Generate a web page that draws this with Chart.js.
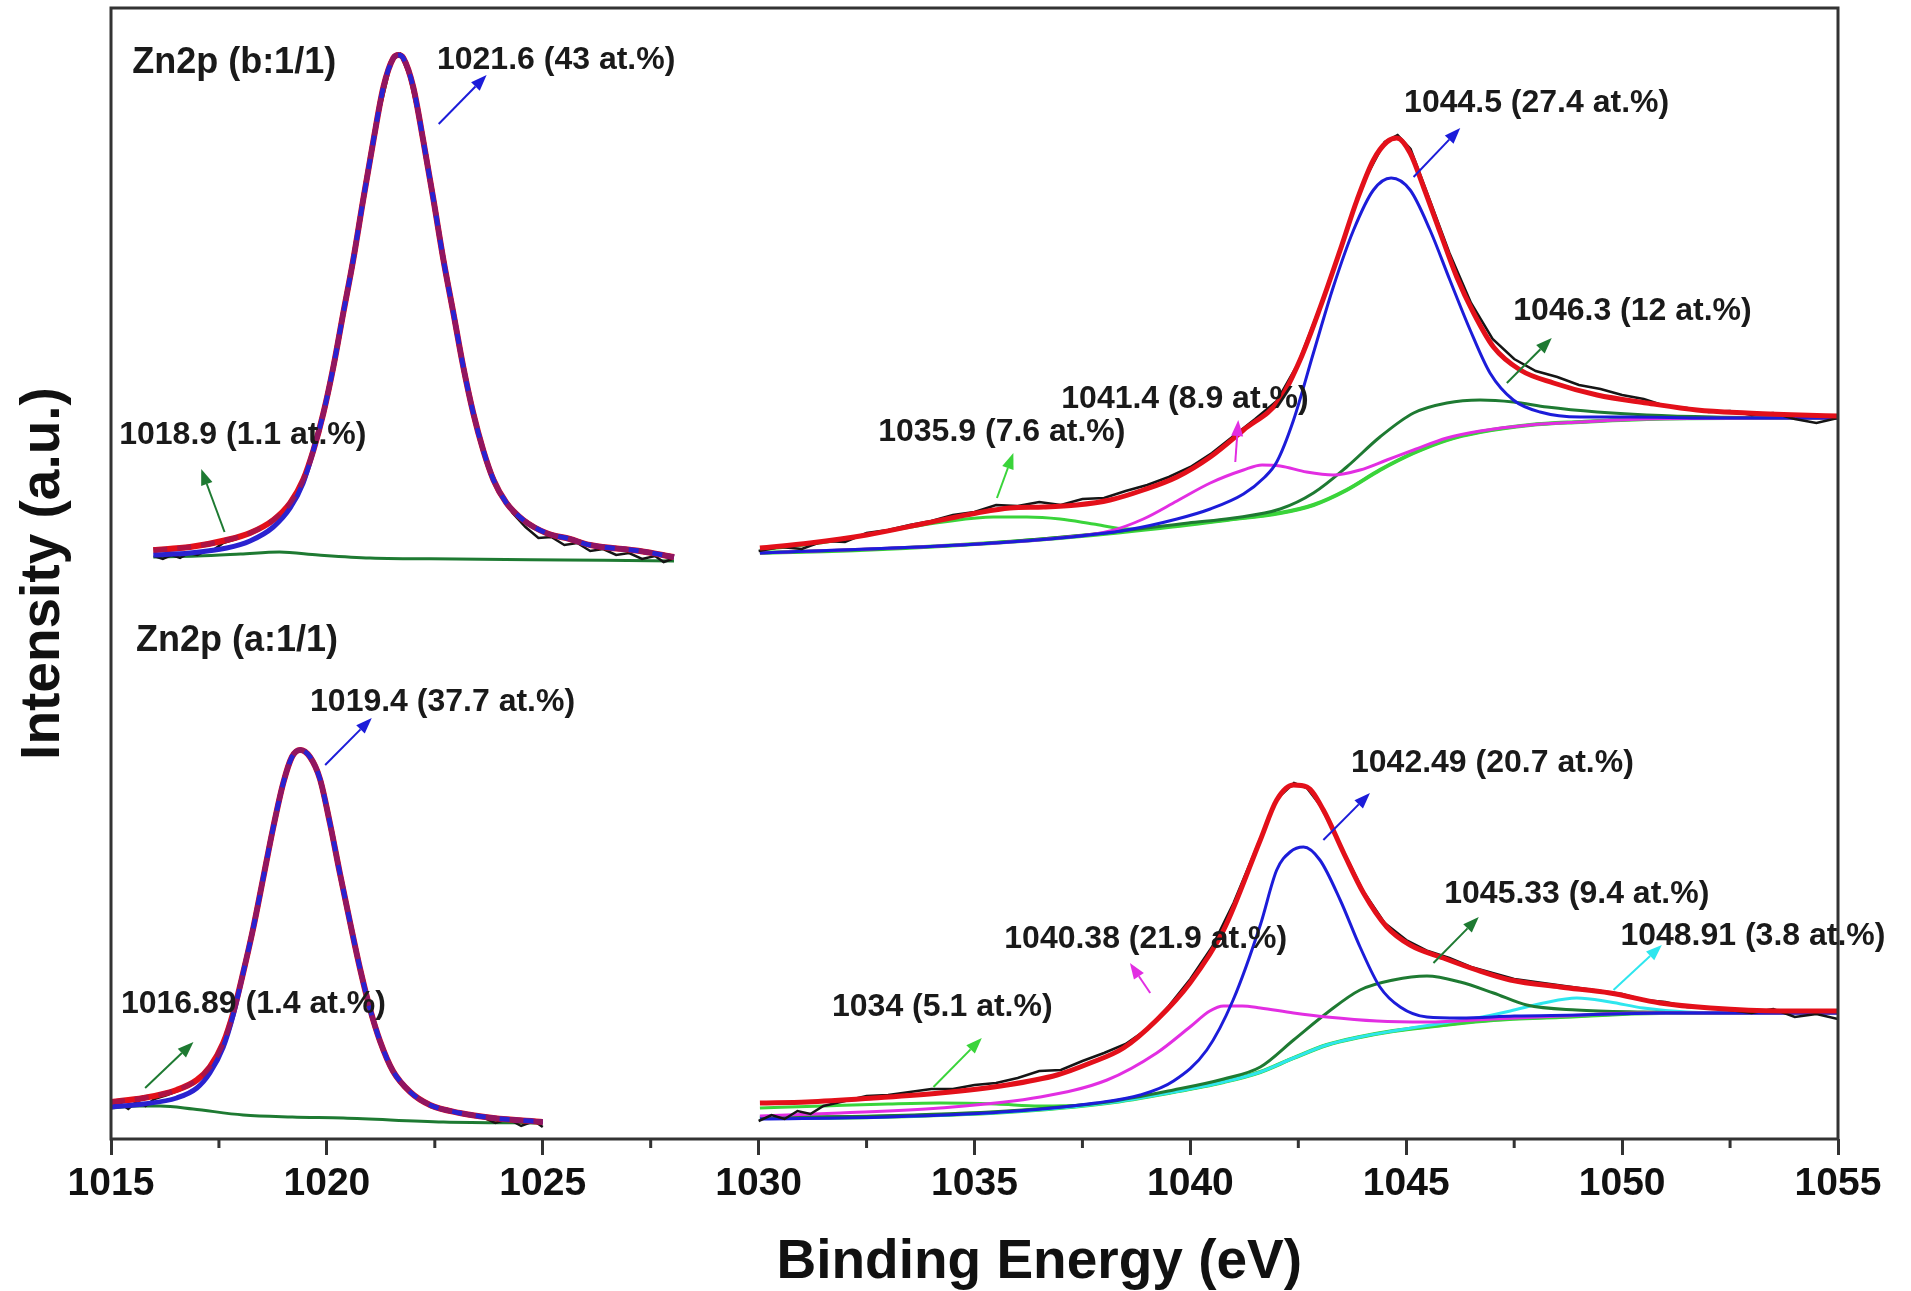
<!DOCTYPE html>
<html lang="en">
<head>
<meta charset="UTF-8">
<title>Zn2p XPS fit</title>
<script src="https://cdn.jsdelivr.net/npm/chart.js@4.4.1/dist/chart.umd.min.js"></script>
<style>
  body { margin: 0; background: #fff; }
  canvas { display: block; }
</style>
</head>
<body>
<canvas id="xps" width="1911" height="1291"></canvas>
<script>
// x axis (binding energy, eV)
const xMin = 1015, xMax = 1055, xStep = 5;
const minorTicks = [1017.5, 1022.5, 1027.5, 1032.5, 1037.5, 1042.5, 1047.5, 1052.5];
const yMin = 0, yMax = 1131;   // arbitrary intensity units
const xTitleAt = 1036.5;

// ---- sample b (upper spectrum), Zn2p3/2 region ----
const bLeftRaw = [[1016.0,583],[1016.2,580],[1016.4,584],[1016.6,581],[1016.8,586],[1017.0,584],[1017.2,588],[1017.4,590],[1017.6,596],[1017.9,600],[1018.2,605],[1018.5,611],[1018.8,620],[1019.1,633],[1019.4,655],[1019.7,690],[1020.0,742],[1020.3,806],[1020.6,878],[1020.9,953],[1021.2,1024],[1021.5,1078],[1021.7,1085],[1021.9,1064],[1022.2,1006],[1022.5,932],[1022.8,856],[1023.1,785],[1023.4,724],[1023.7,679],[1024.0,648],[1024.3,626],[1024.6,612],[1024.9,601],[1025.2,602],[1025.5,594],[1025.8,596],[1026.1,588],[1026.4,590],[1026.7,584],[1027.0,586],[1027.3,580],[1027.6,583],[1027.8,577],[1028.0,580]];
const bLeftFit = [[1015.98,589],[1016.83,592],[1017.68,599],[1018.22,606],[1018.76,619],[1019.15,636],[1019.45,659],[1019.69,689],[1019.92,726],[1020.15,772],[1020.38,826],[1020.61,879],[1020.84,939],[1021.08,999],[1021.31,1052],[1021.54,1081],[1021.66,1084],[1021.77,1081],[1022.00,1052],[1022.23,999],[1022.47,939],[1022.70,879],[1022.93,826],[1023.16,772],[1023.39,726],[1023.62,689],[1023.86,659],[1024.16,636],[1024.55,619],[1025.08,606],[1025.63,600],[1026.10,594],[1027.25,588],[1028.04,582]];
const bLeftPeak = [[1015.98,584],[1016.83,586],[1017.68,591],[1018.22,598],[1018.76,612],[1019.15,631],[1019.45,656],[1019.69,689],[1019.92,726],[1020.15,772],[1020.38,826],[1020.61,879],[1020.84,939],[1021.08,999],[1021.31,1052],[1021.54,1081],[1021.66,1084],[1021.77,1081],[1022.00,1052],[1022.23,999],[1022.47,939],[1022.70,879],[1022.93,826],[1023.16,772],[1023.39,726],[1023.62,689],[1023.86,659],[1024.16,636],[1024.55,619],[1025.08,606],[1025.63,600],[1026.10,594],[1027.25,588],[1028.04,582]];
const bLeftSmall = [[1015.98,582],[1017.0,583],[1018.0,585],[1018.9,587],[1019.8,584],[1021.0,581],[1023.0,580],[1025.5,579],[1028.04,578]];

// ---- sample b, Zn2p1/2 + satellites ----
const bRightRaw = [[1030.0,588],[1030.5,592],[1031.0,590],[1031.5,598],[1032.0,597],[1032.5,606],[1033.0,609],[1033.5,614],[1034.0,618],[1034.5,624],[1035.0,627],[1035.5,634],[1036.0,633],[1036.5,637],[1037.0,634],[1037.5,640],[1038.0,641],[1038.5,648],[1039.0,654],[1039.5,662],[1040.0,672],[1040.5,686],[1041.0,703],[1041.5,720],[1042.0,738],[1042.5,776],[1043.0,832],[1043.5,893],[1044.0,956],[1044.5,997],[1044.8,1004],[1045.1,990],[1045.5,944],[1046.0,886],[1046.5,836],[1047.0,800],[1047.5,780],[1048.0,768],[1048.5,762],[1049.0,754],[1049.5,750],[1050.0,744],[1050.5,740],[1051.0,733],[1051.5,731],[1052.0,727],[1052.5,728],[1053.0,724],[1053.5,726],[1054.0,720],[1054.5,716],[1055.0,721]];
const bRightFit = [[1030.03,591],[1031.19,596],[1032.50,604],[1033.89,616],[1035.05,626],[1035.82,631],[1036.60,632],[1037.37,634],[1038.14,639],[1038.91,649],[1039.69,662],[1040.46,682],[1041.23,709],[1042.08,740],[1042.54,779],[1043.01,832],[1043.47,889],[1043.86,939],[1044.24,979],[1044.55,997],[1044.78,1001],[1045.09,986],[1045.40,952],[1045.79,906],[1046.17,862],[1046.56,826],[1047.02,792],[1047.64,769],[1048.41,756],[1049.42,744],[1050.57,736],[1051.73,729],[1052.89,726],[1054.12,724],[1055.0,723]];
const bRightBg = [[1030.03,586],[1032.35,589],[1034.67,594],[1036.98,601],[1039.30,611],[1040.84,619],[1042.08,626],[1042.85,634],[1043.62,649],[1044.39,669],[1045.17,686],[1045.94,699],[1046.71,707],[1047.87,714],[1049.03,717],[1050.57,720],[1052.5,721],[1055.0,721]];
const bPeak1035 = [[1030.03,589],[1031.58,597],[1033.12,609],[1034.28,617],[1035.44,622],[1036.21,622],[1036.98,620],[1037.75,615],[1038.53,610],[1039.30,612],[1040.84,619],[1042.08,626],[1042.85,634],[1043.62,649],[1044.39,669],[1045.17,686],[1045.94,699],[1046.71,707],[1047.87,714],[1049.03,717],[1050.57,720],[1055.0,721]];
const bPeak1041 = [[1030.03,586],[1034.67,594],[1036.98,601],[1038.14,608],[1038.91,620],[1039.69,638],[1040.46,656],[1041.23,669],[1041.66,674],[1042.08,673],[1042.69,667],[1043.31,664],[1043.93,669],[1044.55,679],[1045.17,689],[1045.94,701],[1046.71,708],[1047.87,714],[1049.03,717],[1050.57,720],[1055.0,721]];
const bPeak1044 = [[1030.03,586],[1034.67,594],[1036.98,601],[1038.53,609],[1039.69,620],[1040.46,630],[1041.23,645],[1041.70,661],[1042.00,677],[1042.39,719],[1042.85,786],[1043.31,852],[1043.78,909],[1044.24,949],[1044.65,961],[1045.09,949],[1045.55,909],[1046.01,859],[1046.48,809],[1046.94,766],[1047.48,739],[1048.10,727],[1049.03,722],[1050.19,722],[1052.0,721],[1055.0,721]];
const bPeak1046 = [[1030.03,586],[1034.67,594],[1038.0,606],[1039.95,616],[1041.0,621],[1042.08,630],[1042.85,646],[1043.62,672],[1044.39,702],[1045.17,726],[1045.94,736],[1046.71,739],[1047.48,737],[1048.26,732],[1049.42,727],[1050.57,724],[1052.12,722],[1055.0,721]];

// ---- sample a (lower spectrum), Zn2p3/2 region ----
const aLeftRaw = [[1015.0,32],[1015.2,36],[1015.4,30],[1015.6,38],[1015.8,33],[1016.0,40],[1016.3,44],[1016.6,49],[1016.9,56],[1017.2,68],[1017.5,86],[1017.8,120],[1018.1,172],[1018.4,232],[1018.7,300],[1019.0,357],[1019.2,382],[1019.4,390],[1019.6,383],[1019.8,364],[1020.0,326],[1020.3,266],[1020.6,204],[1020.9,148],[1021.2,102],[1021.5,71],[1021.8,52],[1022.1,42],[1022.4,32],[1022.8,30],[1023.2,24],[1023.6,22],[1023.9,16],[1024.2,20],[1024.5,13],[1024.8,18],[1025.0,12]];
const aLeftFit = [[1015.0,37],[1015.75,41],[1016.52,49],[1016.99,59],[1017.29,72],[1017.60,96],[1017.83,126],[1018.06,166],[1018.30,212],[1018.53,262],[1018.76,312],[1018.99,356],[1019.19,382],[1019.38,389],[1019.61,382],[1019.84,360],[1020.07,316],[1020.30,266],[1020.54,216],[1020.77,170],[1021.00,130],[1021.23,98],[1021.53,68],[1021.93,47],[1022.39,34],[1023.08,26],[1023.85,21],[1025.0,17]];
const aLeftPeak = [[1015.0,32],[1015.75,35],[1016.52,41],[1016.99,51],[1017.29,66],[1017.60,92],[1017.83,124],[1018.06,166],[1018.30,212],[1018.53,262],[1018.76,312],[1018.99,356],[1019.19,382],[1019.38,389],[1019.61,382],[1019.84,360],[1020.07,316],[1020.30,266],[1020.54,216],[1020.77,170],[1021.00,130],[1021.23,98],[1021.53,68],[1021.93,47],[1022.39,34],[1023.08,26],[1023.85,21],[1025.0,17]];
const aLeftSmall = [[1015.0,31],[1015.6,33],[1016.14,33],[1016.9,30],[1018.06,24],[1019.2,22],[1020.38,21],[1022.7,17],[1025.0,16]];

// ---- sample a, Zn2p1/2 + satellites ----
const aRightRaw = [[1030.0,18],[1030.3,24],[1030.6,20],[1030.9,28],[1031.2,25],[1031.5,33],[1032.0,38],[1032.5,43],[1033.0,44],[1033.5,47],[1034.0,50],[1034.5,50],[1035.0,54],[1035.5,56],[1036.0,61],[1036.5,68],[1037.0,69],[1037.5,78],[1038.0,86],[1038.5,95],[1039.0,110],[1039.5,133],[1040.0,160],[1040.5,192],[1041.0,236],[1041.5,288],[1042.0,340],[1042.4,356],[1042.7,351],[1043.0,334],[1043.5,292],[1044.0,248],[1044.5,216],[1045.0,199],[1045.5,188],[1046.0,181],[1046.5,172],[1047.0,166],[1047.5,160],[1048.0,157],[1048.5,154],[1049.0,151],[1049.5,148],[1050.0,145],[1050.5,139],[1051.0,137],[1051.5,132],[1052.0,131],[1052.5,129],[1053.0,126],[1053.5,130],[1054.0,122],[1054.5,125],[1055.0,120]];
const aRightFit = [[1030.03,36],[1031.12,37],[1032.66,41],[1034.20,46],[1035.75,54],[1036.91,64],[1037.68,76],[1038.45,91],[1039.22,119],[1039.99,156],[1040.77,209],[1041.62,299],[1042.00,339],[1042.39,354],[1042.70,352],[1043.08,329],[1043.55,286],[1044.01,246],[1044.55,212],[1045.09,194],[1045.86,181],[1046.63,169],[1047.41,159],[1048.56,152],[1049.72,146],[1050.88,136],[1052.04,131],[1053.66,128],[1055.0,128]];
const aRightBg = [[1030.03,21],[1032.66,22],[1035.75,27],[1038.07,36],[1039.61,47],[1040.77,57],[1041.62,67],[1042.39,81],[1043.16,94],[1043.93,102],[1044.70,108],[1045.86,114],[1047.02,119],[1048.56,122],[1050.88,126],[1055.0,126]];
const aPeak1034 = [[1030.03,31],[1031.5,33],[1033.0,35],[1034.2,36],[1035.5,35],[1036.5,33],[1037.5,34],[1038.3,38],[1039.61,47],[1040.77,57],[1041.62,67],[1042.39,81],[1043.16,94],[1043.93,102],[1044.70,108],[1045.86,114],[1047.02,119],[1048.56,122],[1050.88,126],[1055.0,126]];
const aPeak1040 = [[1030.03,23],[1031.89,26],[1034.20,31],[1036.52,42],[1038.07,59],[1039.22,86],[1039.99,112],[1040.45,128],[1040.77,133],[1041.2,133],[1041.62,131],[1042.39,126],[1043.16,122],[1044.32,118],[1045.48,117],[1047.02,120],[1048.56,123],[1050.5,126],[1055.0,126]];
const aPeak1042 = [[1030.03,20],[1033.0,22],[1036.0,28],[1037.8,36],[1038.84,44],[1039.61,58],[1040.38,89],[1040.99,139],[1041.62,214],[1042.00,269],[1042.31,287],[1042.62,292],[1043.00,279],[1043.47,239],[1043.93,192],[1044.39,152],[1044.86,132],[1045.48,122],[1046.25,121],[1047.5,123],[1049.0,124],[1051.0,126],[1055.0,126]];
const aPeak1045 = [[1030.03,22],[1032.66,23],[1035.75,28],[1038.07,37],[1039.61,49],[1040.77,60],[1041.62,72],[1042.39,99],[1043.16,126],[1043.93,149],[1044.70,159],[1045.48,163],[1046.25,157],[1047.02,146],[1047.79,134],[1048.95,129],[1050.49,127],[1052.5,126],[1055.0,126]];
const aPeak1048 = [[1030.03,21],[1032.66,22],[1035.75,27],[1038.07,36],[1039.61,47],[1040.77,57],[1041.62,67],[1042.39,81],[1043.16,94],[1043.93,102],[1044.70,108],[1045.86,116],[1046.63,121],[1047.41,128],[1048.18,136],[1048.95,141],[1049.72,137],[1050.49,131],[1051.5,127],[1053.0,126],[1055.0,126]];

// annotation texts (left edge eV, baseline intensity)
const labels = [
  { text: 'Zn2p (b:1/1)', x: 1015.49, y: 1066, size: 36 },
  { text: '1021.6 (43 at.%)', x: 1022.55, y: 1070 },
  { text: '1018.9 (1.1 at.%)', x: 1015.19, y: 695 },
  { text: '1044.5 (27.4 at.%)', x: 1044.95, y: 1027 },
  { text: '1046.3 (12 at.%)', x: 1047.48, y: 819 },
  { text: '1041.4 (8.9 at.%)', x: 1037.01, y: 731 },
  { text: '1035.9 (7.6 at.%)', x: 1032.77, y: 698 },
  { text: 'Zn2p (a:1/1)', x: 1015.58, y: 488, size: 36 },
  { text: '1019.4 (37.7 at.%)', x: 1019.61, y: 428 },
  { text: '1016.89 (1.4 at.%)', x: 1015.23, y: 126 },
  { text: '1042.49 (20.7 at.%)', x: 1043.72, y: 367 },
  { text: '1045.33 (9.4 at.%)', x: 1045.88, y: 236 },
  { text: '1048.91 (3.8 at.%)', x: 1049.96, y: 194 },
  { text: '1040.38 (21.9 at.%)', x: 1035.69, y: 191 },
  { text: '1034 (5.1 at.%)', x: 1031.70, y: 123 }
];

const RED = '#e3101a', BLUE = '#1c1cd9', DKGREEN = '#1e7a32', GREEN = '#3ad43a',
      MAGENTA = '#e22ee2', CYAN = '#2ee6ee', BLACK = '#151515';

// arrows: [fromX, fromY, toX, toY, colour]
const arrows = [
  [1022.59, 1015, 1023.70, 1064, BLUE],
  [1017.63, 607, 1017.09, 670, DKGREEN],
  [1045.17, 962, 1046.25, 1011, BLUE],
  [1047.33, 756, 1048.37, 801, DKGREEN],
  [1041.04, 677, 1041.11, 719, MAGENTA],
  [1035.52, 641, 1035.90, 686, GREEN],
  [1019.96, 374, 1021.04, 421, BLUE],
  [1015.79, 51, 1016.91, 97, DKGREEN],
  [1043.08, 299, 1044.16, 346, BLUE],
  [1045.63, 176, 1046.68, 222, DKGREEN],
  [1049.80, 149, 1050.92, 194, CYAN],
  [1039.07, 146, 1038.60, 176, MAGENTA],
  [1034.05, 52, 1035.17, 101, GREEN]
];

function series(data, color, width, order, extra) {
  return Object.assign({
    data: data, borderColor: color, borderWidth: width, order: order,
    pointRadius: 0, fill: false, cubicInterpolationMode: 'monotone'
  }, extra || {});
}
const raw = { cubicInterpolationMode: 'default', tension: 0 };
const dash = { borderDash: [14, 10] };
const FIT_DASH = 'rgba(165,20,75,0.85)';

const datasets = [
  // sample b
  series(bLeftSmall, DKGREEN, 3, 8),
  series(bLeftRaw, BLACK, 2.5, 7, raw),
  series(bLeftFit, RED, 6, 6),
  series(bLeftPeak, '#2a22d0', 5, 5),
  series(bLeftFit, FIT_DASH, 5, 1, dash),
  series(bRightBg, GREEN, 4, 10),
  series(bPeak1035, GREEN, 3, 9),
  series(bPeak1046, DKGREEN, 3, 8),
  series(bPeak1041, MAGENTA, 3, 7),
  series(bPeak1044, BLUE, 3, 6),
  series(bRightRaw, BLACK, 2.5, 4, raw),
  series(bRightFit, RED, 5, 3),
  // sample a
  series(aLeftSmall, DKGREEN, 3, 8),
  series(aLeftRaw, BLACK, 2.5, 7, raw),
  series(aLeftFit, RED, 6, 6),
  series(aLeftPeak, '#2a22d0', 5, 5),
  series(aLeftFit, FIT_DASH, 5, 1, dash),
  series(aRightBg, GREEN, 4, 10),
  series(aPeak1034, GREEN, 3, 9),
  series(aPeak1045, DKGREEN, 3, 8),
  series(aPeak1048, CYAN, 3, 8),
  series(aPeak1040, MAGENTA, 3, 7),
  series(aPeak1042, BLUE, 3, 6),
  series(aRightRaw, BLACK, 2.5, 4, raw),
  series(aRightFit, RED, 5, 3)
];

const FONT = "'Liberation Sans', Arial, sans-serif";

const decor = {
  id: 'decor',
  afterDraw(chart) {
    const { ctx, chartArea: a, scales: { x, y } } = chart;
    ctx.save();
    // frame
    ctx.strokeStyle = '#333';
    ctx.lineWidth = 3;
    ctx.strokeRect(a.left, a.top, a.right - a.left, a.bottom - a.top);
    // minor ticks
    ctx.beginPath();
    minorTicks.forEach(v => {
      const px = x.getPixelForValue(v);
      ctx.moveTo(px, a.bottom);
      ctx.lineTo(px, a.bottom + 9);
    });
    ctx.stroke();
    // arrows
    arrows.forEach(([fx, fy, tx, ty, c]) => {
      const x0 = x.getPixelForValue(fx), y0 = y.getPixelForValue(fy);
      const x1 = x.getPixelForValue(tx), y1 = y.getPixelForValue(ty);
      const ang = Math.atan2(y1 - y0, x1 - x0);
      const head = 16, half = 6;
      const bx = x1 - head * Math.cos(ang), by = y1 - head * Math.sin(ang);
      ctx.strokeStyle = c; ctx.fillStyle = c; ctx.lineWidth = 2;
      ctx.beginPath(); ctx.moveTo(x0, y0); ctx.lineTo(bx, by); ctx.stroke();
      ctx.beginPath();
      ctx.moveTo(x1, y1);
      ctx.lineTo(bx + half * Math.sin(ang), by - half * Math.cos(ang));
      ctx.lineTo(bx - half * Math.sin(ang), by + half * Math.cos(ang));
      ctx.closePath(); ctx.fill();
    });
    // labels
    ctx.fillStyle = '#1a1a1a';
    ctx.textBaseline = 'alphabetic';
    ctx.textAlign = 'left';
    labels.forEach(l => {
      ctx.font = 'bold ' + (l.size || 32) + 'px ' + FONT;
      ctx.fillText(l.text, x.getPixelForValue(l.x), y.getPixelForValue(l.y));
    });
    // x axis title
    ctx.font = 'bold 55px ' + FONT;
    ctx.textAlign = 'center';
    ctx.textBaseline = 'middle';
    ctx.fillStyle = '#111';
    ctx.fillText('Binding Energy (eV)', x.getPixelForValue(xTitleAt), a.bottom + 124);
    ctx.restore();
  }
};

new Chart(document.getElementById('xps'), {
  type: 'line',
  data: { datasets: datasets },
  options: {
    responsive: false,
    animation: false,
    devicePixelRatio: 1,
    layout: { padding: { top: 8, right: 73, left: 0, bottom: 0 } },
    plugins: { legend: { display: false }, tooltip: { enabled: false } },
    scales: {
      x: {
        type: 'linear', position: 'bottom',
        min: xMin, max: xMax,
        afterFit: s => { s.height = 152; },
        border: { display: false },
        grid: { display: true, drawOnChartArea: false, drawTicks: true, tickLength: 16, lineWidth: 3, color: '#333' },
        ticks: {
          stepSize: xStep, autoSkip: false, maxRotation: 0, padding: 6,
          color: '#111', font: { family: FONT, size: 39, weight: 'bold' },
          callback: v => String(v)
        }
      },
      y: {
        type: 'linear', min: yMin, max: yMax,
        afterFit: s => { s.width = 111; },
        border: { display: false },
        grid: { display: false },
        ticks: { display: false },
        title: {
          display: true, text: 'Intensity (a.u.)', color: '#111',
          font: { family: FONT, size: 55, weight: 'bold' },
          padding: { top: 11, bottom: 0 }
        }
      }
    }
  },
  plugins: [decor]
});
</script>
</body>
</html>
